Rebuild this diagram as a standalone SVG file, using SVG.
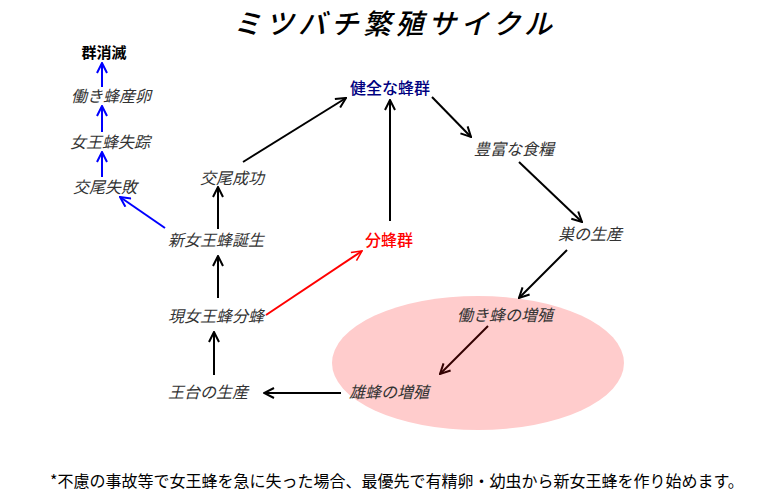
<svg xmlns="http://www.w3.org/2000/svg" width="780" height="500" viewBox="0 0 780 500">
<style>
text{font-family:"Noto Sans CJK JP","Noto Sans CJK SC",sans-serif;font-size:16px;}
.n{font-style:italic;fill:#333;text-anchor:middle;}
.b{font-weight:bold;fill:#000;text-anchor:middle;}
.k{stroke:#000;stroke-width:2;fill:none;}
.bl{stroke:#0000ff;stroke-width:2;fill:none;}
.rd{stroke:#ff0000;stroke-width:2;fill:none;}
.dr{stroke:#330000;stroke-width:2;fill:none;}
</style>
<defs>
<marker id="ak" viewBox="0 0 12 12" refX="11" refY="6" markerWidth="12" markerHeight="12" markerUnits="userSpaceOnUse" orient="auto"><path d="M1,1 L11,6 L1,11" fill="none" stroke="#000" stroke-width="2"/></marker>
<marker id="ab" viewBox="0 0 12 12" refX="11" refY="6" markerWidth="12" markerHeight="12" markerUnits="userSpaceOnUse" orient="auto"><path d="M1,1 L11,6 L1,11" fill="none" stroke="#0000ff" stroke-width="2"/></marker>
<marker id="ar" viewBox="0 0 12 12" refX="11" refY="6" markerWidth="12" markerHeight="12" markerUnits="userSpaceOnUse" orient="auto"><path d="M1,1 L11,6 L1,11" fill="none" stroke="#ff0000" stroke-width="1.5"/></marker>
<marker id="ad" viewBox="0 0 12 12" refX="11" refY="6" markerWidth="12" markerHeight="12" markerUnits="userSpaceOnUse" orient="auto"><path d="M1,1 L11,6 L1,11" fill="none" stroke="#330000" stroke-width="2"/></marker>
</defs>
<rect width="780" height="500" fill="#fff"/>
<ellipse cx="478" cy="363" rx="146" ry="67" fill="#ffcccc"/>
<text x="233" y="34" style="font-size:28px;font-weight:500;font-style:italic;letter-spacing:4.5px" fill="#000">ミツバチ繁殖サイクル</text>
<g id="connectors">
<line class="k" x1="243" y1="162" x2="346" y2="98" marker-end="url(#ak)"/>
<line class="k" x1="390" y1="221" x2="390" y2="100" marker-end="url(#ak)"/>
<line class="k" x1="432" y1="97" x2="471" y2="137" marker-end="url(#ak)"/>
<line class="k" x1="519" y1="162" x2="582" y2="222" marker-end="url(#ak)"/>
<line class="k" x1="567" y1="250" x2="519" y2="298" marker-end="url(#ak)"/>
<line class="dr" x1="488" y1="326" x2="440" y2="374" marker-end="url(#ad)"/>
<line class="k" x1="341" y1="393" x2="264" y2="393" marker-end="url(#ak)"/>
<line class="k" x1="214" y1="375" x2="214" y2="332" marker-end="url(#ak)"/>
<line class="k" x1="218" y1="298" x2="218" y2="256" marker-end="url(#ak)"/>
<line class="k" x1="218" y1="229" x2="218" y2="187" marker-end="url(#ak)"/>
<line class="rd" x1="266" y1="315" x2="362" y2="251" marker-end="url(#ar)"/>
<line class="bl" x1="165" y1="228" x2="120" y2="197" marker-end="url(#ab)"/>
<line class="bl" x1="102" y1="177" x2="102" y2="152" marker-end="url(#ab)"/>
<line class="bl" x1="102" y1="132" x2="102" y2="106" marker-end="url(#ab)"/>
<line class="bl" x1="102" y1="87" x2="102" y2="63" marker-end="url(#ab)"/>
</g>
<g id="n1"><text class="b" x="104" y="58" style="font-size:15px">群消滅</text></g>
<g id="n2"><text class="n" x="111" y="102">働き蜂産卵</text></g>
<g id="n3"><text class="n" x="110" y="148">女王蜂失踪</text></g>
<g id="n4"><text class="n" x="105" y="193">交尾失敗</text></g>
<g id="n5"><text class="n" x="232" y="184">交尾成功</text></g>
<g id="n6"><text class="n" x="216" y="246">新女王蜂誕生</text></g>
<g id="n7"><text class="n" x="216" y="322">現女王蜂分蜂</text></g>
<g id="n8"><text class="n" x="208" y="398">王台の生産</text></g>
<g id="n9"><text class="n" x="389" y="398">雄蜂の増殖</text></g>
<g id="n10"><text class="n" x="505" y="321">働き蜂の増殖</text></g>
<g id="n11"><text class="n" x="590" y="240">巣の生産</text></g>
<g id="n12"><text class="n" x="514" y="155">豊富な食糧</text></g>
<g id="n13"><text x="390" y="94" style="text-anchor:middle;fill:#000080;font-weight:500">健全な蜂群</text></g>
<g id="n14"><text x="389" y="246" style="text-anchor:middle;fill:#ff0000;font-weight:500">分蜂群</text></g>
<text x="50" y="487" fill="#000">*不慮の事故等で女王蜂を急に失った場合、最優先で有精卵・幼虫から新女王蜂を作り始めます。</text>
</svg>
